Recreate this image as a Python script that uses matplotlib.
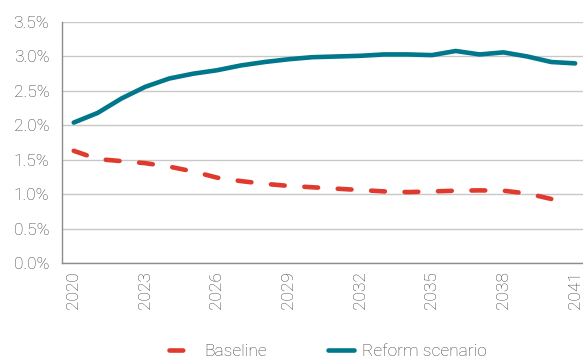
import matplotlib
matplotlib.use("Agg")
import matplotlib.pyplot as plt
from matplotlib.ticker import FuncFormatter

years = list(range(2020, 2042))
baseline_years = list(range(2020, 2041))
baseline = [1.63, 1.51, 1.48, 1.45, 1.40, 1.33, 1.24, 1.19, 1.15, 1.12, 1.10,
            1.08, 1.06, 1.04, 1.03, 1.04, 1.05, 1.055, 1.05, 1.01, 0.93]
reform = [2.04, 2.18, 2.39, 2.56, 2.68, 2.75, 2.80, 2.87, 2.92, 2.96, 2.99,
          3.00, 3.01, 3.03, 3.03, 3.02, 3.08, 3.03, 3.06, 3.00, 2.92, 2.90]
tick_years = list(range(2020, 2042, 3))

RED = "#E03A2E"
TEAL = "#00778B"

plt.rcParams["font.family"] = ["Roboto", "DejaVu Sans"]
plt.rcParams["font.weight"] = "light"

fig = plt.figure(figsize=(5.83, 3.62), dpi=100)
ax = fig.add_axes([0.106, 0.2735, 0.894, 0.6655])

ax.plot(baseline_years, baseline, color=RED, lw=3.3, dashes=(3, 4.3),
        dash_capstyle="round", solid_capstyle="round", label="Baseline")
ax.plot(years, reform, color=TEAL, lw=3.3, solid_capstyle="round",
        label="Reform scenario")

ax.set_xlim(2019.5, 2041.33)
ax.set_ylim(0, 3.5)
ax.set_yticks([i * 0.5 for i in range(8)])
ax.yaxis.set_major_formatter(FuncFormatter(lambda v, _: f"{v:.1f}%"))
ax.set_xticks(tick_years)
ax.set_xticklabels([str(y) for y in tick_years], rotation=90)

ax.grid(axis="y", color="#c8c8c8", lw=1.0)
ax.set_axisbelow(True)
for side in ("top", "right"):
    ax.spines[side].set_visible(False)
for side in ("left", "bottom"):
    ax.spines[side].set_color("#8c8c8c")
    ax.spines[side].set_linewidth(1.0)
ax.tick_params(length=0, labelsize=12.5, colors="#404040")
ax.tick_params(axis="y", pad=9)
ax.tick_params(axis="x", pad=6)

fig.legend(loc="center", bbox_to_anchor=(0.563, 0.03), ncol=2, frameon=False,
           fontsize=12.5, handlelength=1.5, handletextpad=0.5,
           columnspacing=3.5, labelcolor="#404040")

fig.savefig("out.png", dpi=100)
